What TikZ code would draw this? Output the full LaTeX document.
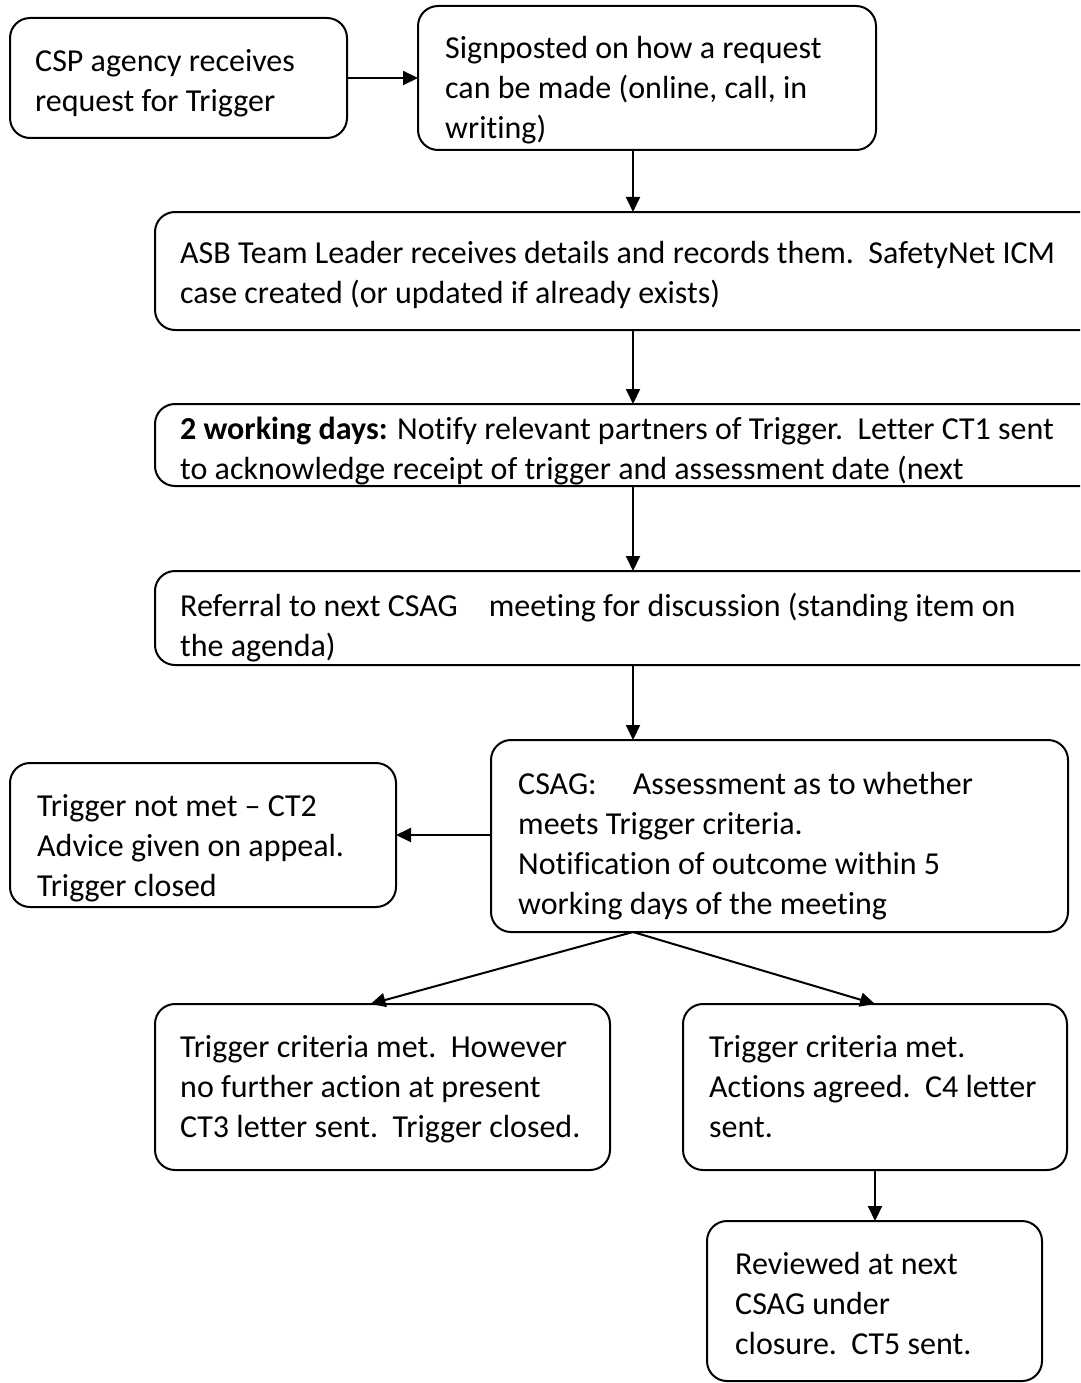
\documentclass[tikz,border=0pt]{standalone}
\usepackage{fontspec}
\setmainfont{Carlito}[Ligatures=NoCommon]
\usetikzlibrary{arrows.meta}
\begin{document}
\begin{tikzpicture}[x=1pt,y=-1pt,
  box/.style={draw, line width=2pt, rounded corners=20pt, anchor=north west, inner sep=0pt, outer sep=0pt},
  txt/.style={anchor=north west, inner sep=0pt, align=left, yshift=28pt, font=\fontsize{32}{40}\selectfont, execute at begin node=\strut},
  arr/.style={line width=2pt, -{Triangle[length=15pt,width=14pt]}}]
\useasboundingbox[fill=white] (0,0) rectangle (1080,1383);
\clip (0,0) rectangle (1080,1383);
\coordinate (cx) at (633,0);
% boxes
\node[box, minimum width=337pt, minimum height=120pt] (b1) at (10,18) {};
\node[box, minimum width=458pt, minimum height=144pt] (b2) at (418,6) {};
\node[box, minimum width=960pt, minimum height=118pt] (b3) at (155,212) {};
\node[box, minimum width=960pt, minimum height=82pt] (b4) at (155,404) {};
\node[box, minimum width=960pt, minimum height=94pt] (b5) at (155,571) {};
\node[box, minimum width=577pt, minimum height=192pt] (b6) at (491,740) {};
\node[box, minimum width=386pt, minimum height=144pt] (b7) at (10,763) {};
\node[box, minimum width=455pt, minimum height=166pt] (b8) at (155,1004) {};
\node[box, minimum width=384pt, minimum height=166pt] (b9) at (683,1004) {};
\node[box, minimum width=335pt, minimum height=160pt] (b10) at (707,1221) {};
% texts
\node[txt] (t1) at (35,77) {CSP agency receives\\request for Trigger};
\node[txt] (t2) at (445,64) {Signposted on how a request\\can be made (online, call, in\\writing)};
\node[txt] (t3) at (180,269) {ASB Team Leader receives details and records them.\ \ SafetyNet ICM\\case created (or updated if already exists)};
\node[txt] (t4) at (180,445) {\textbf{2 working days:} Notify relevant partners of Trigger.\ \ Letter CT1 sent\\to acknowledge receipt of trigger and assessment date (next};
\node[txt] (t5) at (180,621) {Referral to next CSAG\hspace{31pt}meeting for discussion (standing item on\\the agenda)};
\node[txt] (t6) at (518,800) {CSAG:\hspace{36pt}Assessment as to whether\\meets Trigger criteria.\\Notification of outcome within 5\\working days of the meeting};
\node[txt] (t7) at (37,822) {Trigger not met -- CT2\\Advice given on appeal.\\Trigger closed};
\node[txt] (t8) at (180,1063) {Trigger criteria met.\ \ However\\no further action at present\\CT3 letter sent.\ \ Trigger closed.};
\node[txt] (t9) at (709,1063) {Trigger criteria met.\\Actions agreed.\ \ C4 letter\\sent.};
\node[txt] (t10) at (735,1280) {Reviewed at next\\CSAG under\\closure.\ \ CT5 sent.};
% connectors
\draw[arr] (b1.east) -- (b2.west |- b1.east);
\draw[arr] (b2.south -| cx) -- (b3.north -| cx);
\draw[arr] (b3.south -| cx) -- (b4.north -| cx);
\draw[arr] (b4.south -| cx) -- (b5.north -| cx);
\draw[arr] (b5.south -| cx) -- (b6.north -| cx);
\draw[arr] (b6.west |- b7.east) -- (b7.east);
\draw[arr] (b6.south -| cx) -- ([xshift=-12pt]b8.north);
\draw[arr] (b6.south -| cx) -- (b9.north);
\draw[arr] (b9.south) -- (b10.north -| b9.south);
\end{tikzpicture}
\end{document}
